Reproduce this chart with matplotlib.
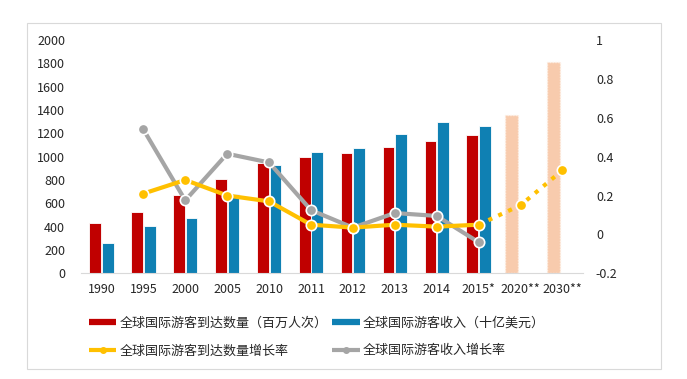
import matplotlib
matplotlib.use("Agg")
import matplotlib.pyplot as plt
from matplotlib.lines import Line2D
from matplotlib.patches import Rectangle
import numpy as np

plt.rcParams['font.family'] = ['Noto Sans CJK SC', 'DejaVu Sans']

categories = ['1990', '1995', '2000', '2005', '2010', '2011', '2012', '2013', '2014', '2015*', '2020**', '2030**']
arrivals = [435, 527, 674, 809, 949, 995, 1035, 1087, 1133, 1184]
receipts = [262, 403, 475, 680, 927, 1042, 1078, 1197, 1300, 1260]
forecast_cats = ['2020**', '2030**']
forecast = [1360, 1809]
arrival_growth = [None, 0.21, 0.28, 0.20, 0.17, 0.05, 0.035, 0.05, 0.04, 0.05, 0.15, 0.33]
receipt_growth = [None, 0.54, 0.175, 0.415, 0.37, 0.125, 0.035, 0.11, 0.095, -0.04]

label_arr = '全球国际游客到达数量（百万人次）'
label_rec = '全球国际游客收入（十亿美元）'
label_arr_g = '全球国际游客到达数量增长率'
label_rec_g = '全球国际游客收入增长率'

RED = '#C00000'
BLUE = '#0F80B3'
YEL = '#FFC000'
GRAY = '#A5A5A5'
PEACH = '#F8CBAD'

W, H = 687, 379
fig = plt.figure(figsize=(W / 100, H / 100), dpi=100)
ax = fig.add_axes([80.5 / W, 1 - 273.3 / H, (583.4 - 80.5) / W, (273.3 - 40) / H])

x = np.arange(len(categories))
n = len(arrivals)
bw = 0.28
ax.bar(x[:n] - 0.15, arrivals, bw, color=RED, edgecolor='white', linewidth=0.6, zorder=2)
ax.bar(x[:n] + 0.15, receipts, bw, color=BLUE, edgecolor='white', linewidth=0.6, zorder=2)
fx = np.array([categories.index(c) for c in forecast_cats])
ax.bar(fx - 0.21, forecast, 0.3, color=PEACH, edgecolor='#FDF0E6', linewidth=1.0,
       linestyle=(0, (1, 1)), zorder=2)

ax.set_xlim(-0.5, len(categories) - 0.5)
ax.set_ylim(0, 2000)
ax.set_yticks(range(0, 2001, 200))
ax.set_xticks(x)
ax.set_xticklabels(categories)
for s in ['top', 'right', 'left']:
    ax.spines[s].set_visible(False)
ax.spines['bottom'].set_color('#D9D9D9')
ax.spines['bottom'].set_linewidth(0.8)
ax.tick_params(axis='y', length=0, pad=11, labelsize=9, labelcolor='#262626')
ax.tick_params(axis='x', length=0, pad=7, labelsize=9, labelcolor='#262626')

ax2 = ax.twinx()
ax2.set_ylim(-0.2, 1.0)
ax2.set_yticks([-0.2, 0, 0.2, 0.4, 0.6, 0.8, 1.0])
ax2.set_yticklabels(['-0.2', '0', '0.2', '0.4', '0.6', '0.8', '1'])
for s in ['top', 'right', 'left', 'bottom']:
    ax2.spines[s].set_visible(False)
ax2.tick_params(axis='y', length=0, pad=9, labelsize=9, labelcolor='#262626')

ag = np.array([np.nan if v is None else v for v in arrival_growth], dtype=float)
rg = np.array([np.nan if v is None else v for v in receipt_growth], dtype=float)
xr = x[:len(rg)]
i15 = categories.index('2015*')

ax2.plot(xr, rg, color=GRAY, lw=3, solid_joinstyle='round', zorder=3)
ax2.plot(xr, rg, 'o', ms=7.5, color=GRAY, mec='white', mew=1.2, zorder=4)
ax2.plot(x[:i15 + 1], ag[:i15 + 1], color=YEL, lw=3, solid_joinstyle='round', zorder=5)
ax2.plot(x[i15:], ag[i15:], color=YEL, lw=3, linestyle=(0, (1, 1.6)), zorder=5)
ax2.plot(x, ag, 'o', ms=7.5, color=YEL, mec='white', mew=1.2, zorder=6)

handles = [
    Line2D([], [], color=RED, lw=4.5, solid_capstyle='butt'),
    Line2D([], [], color=YEL, lw=3, marker='o', ms=4, solid_capstyle='butt'),
    Line2D([], [], color=BLUE, lw=4.5, solid_capstyle='butt'),
    Line2D([], [], color=GRAY, lw=3, marker='o', ms=4, solid_capstyle='butt'),
]
labels = [label_arr, label_arr_g, label_rec, label_rec_g]
fig.legend(handles, labels, ncol=2, loc='upper left', bbox_to_anchor=(89 / W, 1 - 317 / H),
           frameon=False, fontsize=9.4, handlelength=2.1, handletextpad=0.25,
           columnspacing=0.35, labelspacing=1.1, borderpad=0, borderaxespad=0,
           labelcolor='#262626')

fig.patches.append(Rectangle((27 / W, 1 - 369 / H), (661 - 27) / W, (369 - 23) / H,
                             transform=fig.transFigure, fill=False, edgecolor='#D9D9D9',
                             linewidth=0.8, zorder=0))

fig.savefig('out.png', dpi=100, facecolor='white')
